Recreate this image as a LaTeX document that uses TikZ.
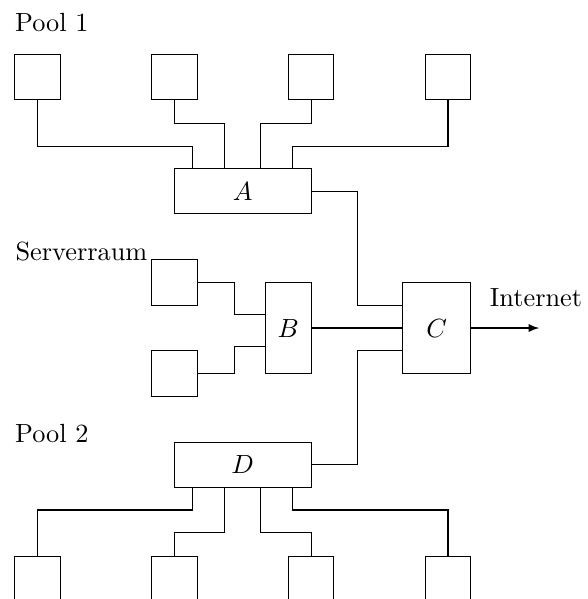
\documentclass[tikz,border=0pt]{standalone}
\begin{document}
\def\un{0.61cm}
\begin{tikzpicture}[x=\un,y=\un,
  box/.style={draw, minimum width={1*\un}, minimum height={1*\un}, inner sep=0pt},
  hub/.style={draw, minimum width={3*\un}, minimum height={1*\un}, inner sep=0pt},
  tall/.style={draw, minimum height={2*\un}, inner sep=0pt},
  lbl/.style={inner sep=0pt}]
\useasboundingbox (-5.32,-8.94) rectangle (7.55,4.19);

% hubs
\node[hub] (A) at (0,0) {$A$};
\node[tall, minimum width={1*\un}] (B) at (1,-3) {$B$};
\node[tall, minimum width={1.5*\un}] (C) at (4.25,-3) {$C$};
\node[hub] (D) at (0,-6) {$D$};

% pool 1
\node[box] (p1) at (-4.5,2.5) {};
\node[box] (p2) at (-1.5,2.5) {};
\node[box] (p3) at (1.5,2.5) {};
\node[box] (p4) at (4.5,2.5) {};

% server room
\node[box] (s1) at (-1.5,-2) {};
\node[box] (s2) at (-1.5,-4) {};

% pool 2
\node[box] (q1) at (-4.5,-8.5) {};
\node[box] (q2) at (-1.5,-8.5) {};
\node[box] (q3) at (1.5,-8.5) {};
\node[box] (q4) at (4.5,-8.5) {};

% labels
\node[lbl, anchor=base west] (lp1) at (-5.0,3.5) {Pool 1};
\node[lbl, anchor=base west] (lp2) at (-5.0,-5.5) {Pool 2};
\node[lbl, anchor=base east] (lsr) at (-2.08,-1.52) {Serverraum};
\coordinate (net) at (6.5,-3);
\node[lbl, anchor=base] (lnet) at (6.43,-2.52) {Internet};

% pool 1 wiring
\draw (p1.south) -- ++(0,-1) -| ([xshift={-1.1*\un}]A.north);
\draw (p2.south) -- ++(0,-0.5) -| ([xshift={-0.4*\un}]A.north);
\draw (p3.south) -- ++(0,-0.5) -| ([xshift={0.4*\un}]A.north);
\draw (p4.south) -- ++(0,-1) -| ([xshift={1.1*\un}]A.north);

% pool 2 wiring
\draw (q1.north) -- ++(0,1) -| ([xshift={-1.1*\un}]D.south);
\draw (q2.north) -- ++(0,0.5) -| ([xshift={-0.4*\un}]D.south);
\draw (q3.north) -- ++(0,0.5) -| ([xshift={0.4*\un}]D.south);
\draw (q4.north) -- ++(0,1) -| ([xshift={1.1*\un}]D.south);

% server wiring
\draw (s1.east) -- ++(0.8,0) |- ([yshift={0.3*\un}]B.west);
\draw (s2.east) -- ++(0.8,0) |- ([yshift={-0.4*\un}]B.west);

% to C
\draw (A.east) -- ++(1,0) |- ([yshift={0.5*\un}]C.west);
\draw (D.east) -- ++(1,0) |- ([yshift={-0.5*\un}]C.west);
\draw (B.east) -- (C.west);
\draw[-latex] (C.east) -- (net);
\end{tikzpicture}
\end{document}
